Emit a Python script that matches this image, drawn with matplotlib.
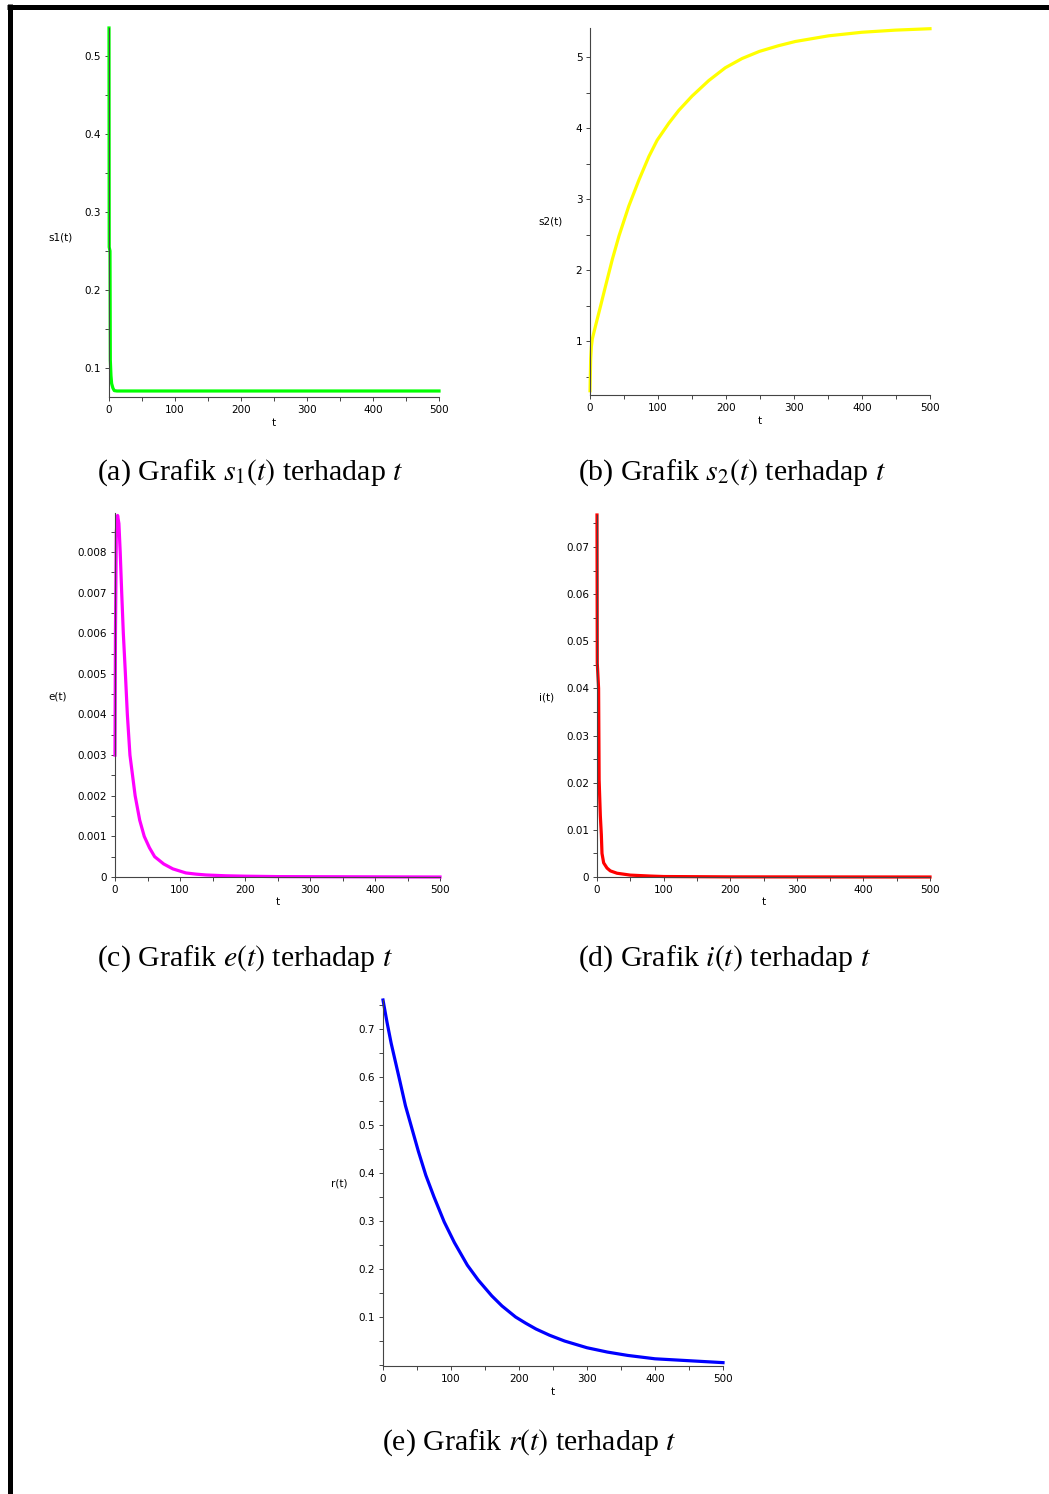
import matplotlib
matplotlib.use('Agg')
import matplotlib.pyplot as plt
from matplotlib.lines import Line2D
from matplotlib.ticker import FixedLocator, MultipleLocator

# data
t_s1 = [0, 0.3, 1.5, 2, 3, 4, 6, 8, 12, 20, 500]
s1 = [0.536, 0.255, 0.25, 0.11, 0.09, 0.08, 0.074, 0.071, 0.0705, 0.0705, 0.0705]

t_s2 = [0, 1, 2, 3.4, 8.3, 15.7, 23, 32.8, 42.6, 57, 72, 86.6, 98.8, 116, 130.6, 150,
        174.7, 199, 223.6, 249, 277, 302, 351, 400, 449, 500]
s2 = [0.30, 0.75, 0.92, 1.03, 1.22, 1.50, 1.78, 2.15, 2.48, 2.90, 3.27, 3.60, 3.83,
      4.07, 4.25, 4.45, 4.67, 4.85, 4.98, 5.08, 5.16, 5.22, 5.30, 5.35, 5.38, 5.40]

t_e = [0, 0.7, 2, 4, 6, 8, 10.3, 12.8, 16, 19, 23, 27, 31, 38, 45, 53, 61, 75, 89, 109,
       125, 140, 170, 200, 250, 500]
e = [0.003, 0.006, 0.0085, 0.0089, 0.0087, 0.0080, 0.0070, 0.0060, 0.0050, 0.0040,
     0.0030, 0.0025, 0.0020, 0.0014, 0.0010, 0.00072, 0.0005, 0.00032, 0.0002, 0.0001,
     0.00007, 0.00005, 0.00003, 0.00002, 0.00001, 0.0]

t_i = [0, 0.4, 2.4, 3.2, 5, 6.5, 7.5, 10, 15, 20, 30, 50, 80, 100, 200, 500]
i_vals = [0.0768, 0.0454, 0.040, 0.0206, 0.013, 0.009, 0.005, 0.003, 0.0019, 0.0013,
          0.0008, 0.0004, 0.0002, 0.0001, 0.00003, 0.0]

t_r = [0, 6, 12, 25, 33, 42, 52, 63, 75, 90, 105, 124, 140, 160, 175, 195, 210, 225,
       245, 267, 300, 330, 360, 400, 450, 500]
r = [0.76, 0.713, 0.67, 0.59, 0.54, 0.495, 0.445, 0.395, 0.35, 0.298, 0.255, 0.208,
     0.177, 0.144, 0.123, 0.10, 0.087, 0.075, 0.062, 0.05, 0.036, 0.027, 0.02, 0.013,
     0.009, 0.005]

x_ticks = [0, 100, 200, 300, 400, 500]
x_labels = ['0', '100', '200', '300', '400', '500']

ticks_s1 = [0.1, 0.2, 0.3, 0.4, 0.5]
labels_s1 = ['0.1', '0.2', '0.3', '0.4', '0.5']
ticks_s2 = [1, 2, 3, 4, 5]
labels_s2 = ['1', '2', '3', '4', '5']
ticks_e = [0, 0.001, 0.002, 0.003, 0.004, 0.005, 0.006, 0.007, 0.008]
labels_e = ['0', '0.001', '0.002', '0.003', '0.004', '0.005', '0.006', '0.007', '0.008']
ticks_i = [0, 0.01, 0.02, 0.03, 0.04, 0.05, 0.06, 0.07]
labels_i = ['0', '0.01', '0.02', '0.03', '0.04', '0.05', '0.06', '0.07']
ticks_r = [0.1, 0.2, 0.3, 0.4, 0.5, 0.6, 0.7]
labels_r = ['0.1', '0.2', '0.3', '0.4', '0.5', '0.6', '0.7']

captions = [r'(a) Grafik $s_1(t)$ terhadap $t$',
            r'(b) Grafik $s_2(t)$ terhadap $t$',
            r'(c) Grafik $e(t)$ terhadap $t$',
            r'(d) Grafik $i(t)$ terhadap $t$',
            r'(e) Grafik $r(t)$ terhadap $t$']

plt.rcParams['mathtext.fontset'] = 'stix'

W, H = 1049, 1494
fig = plt.figure(figsize=(W / 100, H / 100), dpi=100)


def px_axes(left, right, top, bottom):
    return fig.add_axes([left / W, 1 - bottom / H, (right - left) / W, (bottom - top) / H])


def style(ax, ylim, yt, yl, ystep, ylabel, lab_xy):
    ax.set_xlim(0, 500)
    ax.set_ylim(*ylim)
    for s in ['top', 'right']:
        ax.spines[s].set_visible(False)
    for s in ['left', 'bottom']:
        ax.spines[s].set_color('#444444')
        ax.spines[s].set_linewidth(0.8)
    ax.xaxis.set_major_locator(FixedLocator(x_ticks))
    ax.set_xticklabels(x_labels)
    ax.xaxis.set_minor_locator(MultipleLocator(50))
    ax.yaxis.set_major_locator(FixedLocator(yt))
    ax.set_yticklabels(yl)
    ax.yaxis.set_minor_locator(MultipleLocator(ystep))
    ax.tick_params(which='both', direction='out', length=3, width=0.7,
                   color='#444444', labelsize=7.5, pad=2.5)
    ax.text(lab_xy[0], lab_xy[1], ylabel, transform=ax.transAxes,
            ha='center', va='center', fontsize=7.5)
    ax.text(0.5, -0.07, 't', transform=ax.transAxes, ha='center', va='center',
            fontsize=7.5)


lw = 2.3

ax = px_axes(109, 439, 28, 397)
ax.plot(t_s1, s1, color='#00ff00', lw=lw, clip_on=False)
style(ax, (0.0628, 0.536), ticks_s1, labels_s1, 0.05, 's1(t)', (-0.148, 0.431))

ax = px_axes(590, 930, 28, 395)
ax.plot(t_s2, s2, color='#ffff00', lw=lw, clip_on=False)
style(ax, (0.24, 5.41), ticks_s2, labels_s2, 0.5, 's2(t)', (-0.115, 0.474))

ax = px_axes(115, 440, 513, 877)
ax.plot(t_e, e, color='#ff00ff', lw=lw, clip_on=False)
style(ax, (0, 0.00896), ticks_e, labels_e, 0.0005, 'e(t)', (-0.178, 0.495))

ax = px_axes(597, 930, 515, 877)
ax.plot(t_i, i_vals, color='#ff0000', lw=lw, clip_on=False)
style(ax, (0, 0.0768), ticks_i, labels_i, 0.005, 'i(t)', (-0.150, 0.497))

ax = px_axes(383, 723, 1000, 1366)
ax.plot(t_r, r, color='#0000ff', lw=lw, clip_on=False)
style(ax, (-0.002, 0.76), ticks_r, labels_r, 0.05, 'r(t)', (-0.129, 0.5))

cap_pos = [(97, 473), (578, 473), (97, 959), (578, 959), (382, 1443)]
for txt, (x, y) in zip(captions, cap_pos):
    fig.text(x / W, 1 - y / H, txt, ha='left', va='center', fontsize=21.5,
             family='Liberation Serif')

# black frame around the figure
fig.add_artist(Line2D([9.5 / W, 9.5 / W], [0, 1 - 4 / H], color='black', lw=3.6,
                      transform=fig.transFigure, solid_capstyle='butt'))
fig.add_artist(Line2D([7 / W, 1], [1 - 6.5 / H, 1 - 6.5 / H], color='black', lw=3.6,
                      transform=fig.transFigure, solid_capstyle='butt'))

fig.savefig('out.png', dpi=100)
